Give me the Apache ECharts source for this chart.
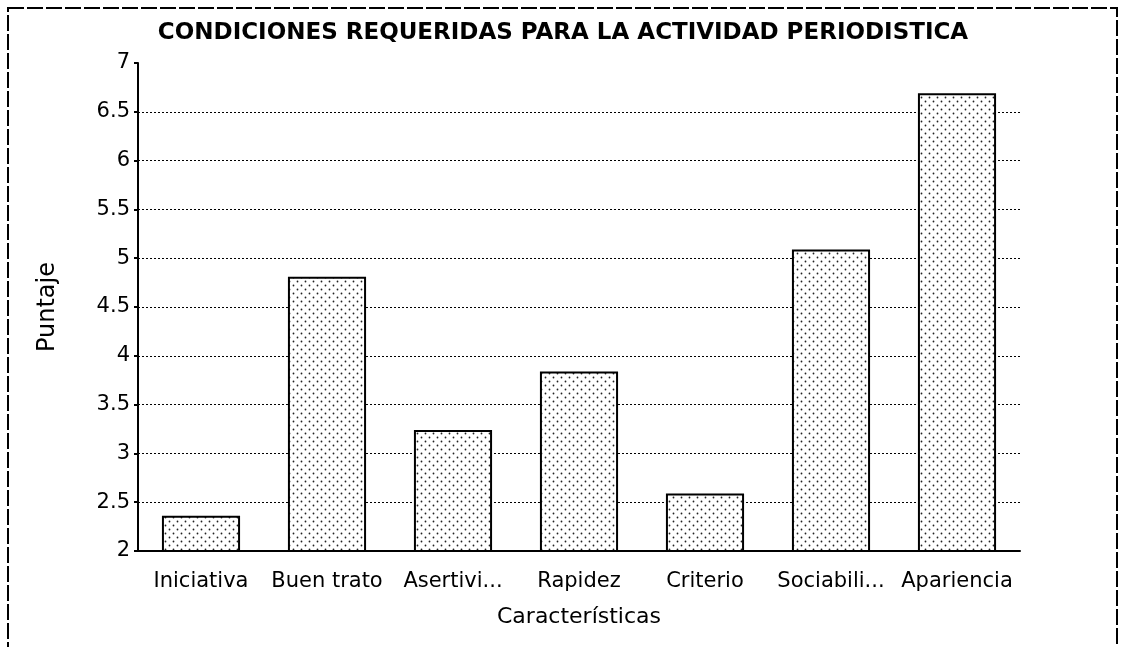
<!DOCTYPE html>
<html>
<head>
<meta charset="utf-8">
<title>Condiciones requeridas para la actividad periodística</title>
<script src="https://cdn.jsdelivr.net/npm/echarts@6/dist/echarts.min.js"></script>
<style>
  html, body { margin: 0; padding: 0; background: #fff; }
  #chart { width: 1126px; height: 647px; }
</style>
</head>
<body>
<div id="chart"></div>
<script>
// Data
const categories = ['Iniciativa', 'Buen trato', 'Asertivi...', 'Rapidez', 'Criterio', 'Sociabili...', 'Apariencia'];
const puntajes = [2.36, 4.81, 3.24, 3.84, 2.59, 5.09, 6.69];
const yTicks = [2, 2.5, 3, 3.5, 4, 4.5, 5, 5.5, 6, 6.5, 7];

const FONT = '"DejaVu Sans", sans-serif';

// Dotted fill like the old bitmap pattern
function dotPattern() {
  const c = document.createElement('canvas');
  c.width = 8;
  c.height = 8;
  const ctx = c.getContext('2d');
  ctx.fillStyle = '#fff';
  ctx.fillRect(0, 0, 8, 8);
  ctx.fillStyle = '#222';
  [[1.5, 1.5], [5.5, 5.5]].forEach(([x, y]) => {
    ctx.beginPath();
    ctx.arc(x, y, 0.9, 0, Math.PI * 2);
    ctx.fill();
  });
  return c;
}

const chart = echarts.init(document.getElementById('chart'), null, { renderer: 'canvas' });

const option = {
  animation: false,
  backgroundColor: '#fff',
  title: {
    text: 'CONDICIONES REQUERIDAS PARA LA ACTIVIDAD PERIODISTICA',
    left: 'center',
    top: 17,
    textStyle: { fontFamily: FONT, fontSize: 23, fontWeight: 'bold', color: '#000' },
  },
  graphic: [
    {
      type: 'rect',
      shape: { x: 8, y: 8, width: 1109, height: 660 },
      style: { fill: 'none', stroke: '#000', lineWidth: 2, lineDash: [16, 3] },
      silent: true,
    },
  ],
  grid: { left: 138, right: 106, top: 63, bottom: 96, containLabel: false },
  xAxis: {
    type: 'category',
    data: categories,
    name: 'Características',
    nameLocation: 'middle',
    nameGap: 55,
    nameTextStyle: { fontFamily: FONT, fontSize: 22, color: '#000' },
    axisLine: { lineStyle: { color: '#000', width: 2 } },
    axisTick: { alignWithLabel: true, length: 6, lineStyle: { color: '#000', width: 2 } },
    axisLabel: { interval: 0, margin: 20, fontFamily: FONT, fontSize: 21, color: '#000' },
  },
  yAxis: {
    type: 'value',
    min: yTicks[0],
    max: yTicks[yTicks.length - 1],
    interval: 0.5,
    name: 'Puntaje',
    nameLocation: 'middle',
    nameGap: 78,
    nameTextStyle: { fontFamily: FONT, fontSize: 24, color: '#000' },
    axisLine: { show: true, lineStyle: { color: '#000', width: 2 } },
    axisTick: { show: true, length: 4, lineStyle: { color: '#000', width: 2 } },
    axisLabel: { margin: 8, fontFamily: FONT, fontSize: 21, color: '#000' },
    splitLine: {
      show: true,
      showMaxLine: false,
      lineStyle: { color: '#000', width: 1, type: [2, 2] },
    },
  },
  series: [
    {
      type: 'bar',
      data: puntajes,
      barCategoryGap: '38%',
      itemStyle: {
        color: { image: dotPattern(), repeat: 'repeat' },
        borderColor: '#000',
        borderWidth: 2,
      },
    },
  ],
};

chart.setOption(option);
</script>
</body>
</html>
